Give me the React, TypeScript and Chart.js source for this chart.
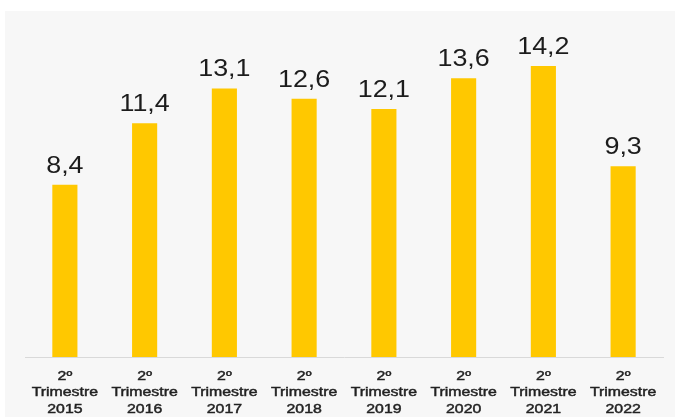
import React, { useEffect, useRef } from "react";
import { Chart, registerables } from "chart.js";

Chart.register(...registerables);

const categories: string[][] = [
  ["2º", "Trimestre", "2015"],
  ["2º", "Trimestre", "2016"],
  ["2º", "Trimestre", "2017"],
  ["2º", "Trimestre", "2018"],
  ["2º", "Trimestre", "2019"],
  ["2º", "Trimestre", "2020"],
  ["2º", "Trimestre", "2021"],
  ["2º", "Trimestre", "2022"],
];
const values: number[] = [8.4, 11.4, 13.1, 12.6, 12.1, 13.6, 14.2, 9.3];

const FONT = "'Liberation Sans', Arial, sans-serif";

const valueLabels = {
  id: "valueLabels",
  afterDatasetsDraw(chart: any) {
    const ctx = chart.ctx;
    const meta = chart.getDatasetMeta(0);
    ctx.save();
    ctx.fillStyle = "#1c1c1c";
    ctx.font = `24px ${FONT}`;
    ctx.textAlign = "center";
    ctx.textBaseline = "alphabetic";
    meta.data.forEach((bar: any, i: number) => {
      const txt = values[i].toFixed(1).replace(".", ",");
      ctx.save();
      ctx.translate(bar.x, bar.y - 12);
      ctx.scale(1.12, 1);
      ctx.fillText(txt, 0, 0);
      ctx.restore();
    });
    ctx.restore();
  },
};

const categoryLabels = {
  id: "categoryLabels",
  afterDraw(chart: any) {
    const ctx = chart.ctx;
    const xs = chart.scales.x;
    const bottom = chart.chartArea.bottom;
    const offsets = [19, 35.5, 52];
    ctx.save();
    ctx.fillStyle = "#222222";
    ctx.strokeStyle = "#222222";
    ctx.lineWidth = 0.45;
    ctx.font = `13px ${FONT}`;
    ctx.textAlign = "center";
    ctx.textBaseline = "middle";
    categories.forEach((lines, i) => {
      const x = xs.getPixelForValue(i);
      lines.forEach((line, j) => {
        ctx.save();
        ctx.translate(x, bottom + offsets[j]);
        ctx.scale(1.22, 1);
        ctx.fillText(line, 0, 0);
        ctx.strokeText(line, 0, 0);
        ctx.restore();
      });
    });
    ctx.restore();
  },
};

export default function App() {
  const ref = useRef<HTMLCanvasElement | null>(null);
  useEffect(() => {
    if (!ref.current) return;
    const chart = new Chart(ref.current, {
      type: "bar",
      data: {
        labels: categories,
        datasets: [
          {
            data: values,
            backgroundColor: "#FFC800",
            borderWidth: 0,
            categoryPercentage: 1,
            barPercentage: 0.315,
          },
        ],
      },
      options: {
        animation: false,
        responsive: false,
        maintainAspectRatio: false,
        layout: { padding: { left: 25, right: 12, top: 29, bottom: 52 } },
        plugins: {
          legend: { display: false },
          tooltip: { enabled: false },
        },
        scales: {
          x: {
            grid: { display: false },
            border: { display: true, color: "#d9d9d9", width: 1 },
            ticks: { display: false },
          },
          y: {
            display: false,
            min: 0,
            max: 16,
          },
        },
      },
      plugins: [valueLabels, categoryLabels],
    });
    return () => chart.destroy();
  }, []);

  return (
    <div
      style={{
        position: "fixed",
        left: 0,
        top: 0,
        width: 675,
        height: 417,
        background: "#ffffff",
        overflow: "hidden",
      }}
    >
      <div
        style={{
          position: "absolute",
          left: 5,
          top: 11,
          width: 670,
          height: 406,
          background: "#f7f7f7",
        }}
      />
      <canvas
        ref={ref}
        width={675}
        height={417}
        style={{ position: "absolute", left: 0, top: 0 }}
      />
    </div>
  );
}
